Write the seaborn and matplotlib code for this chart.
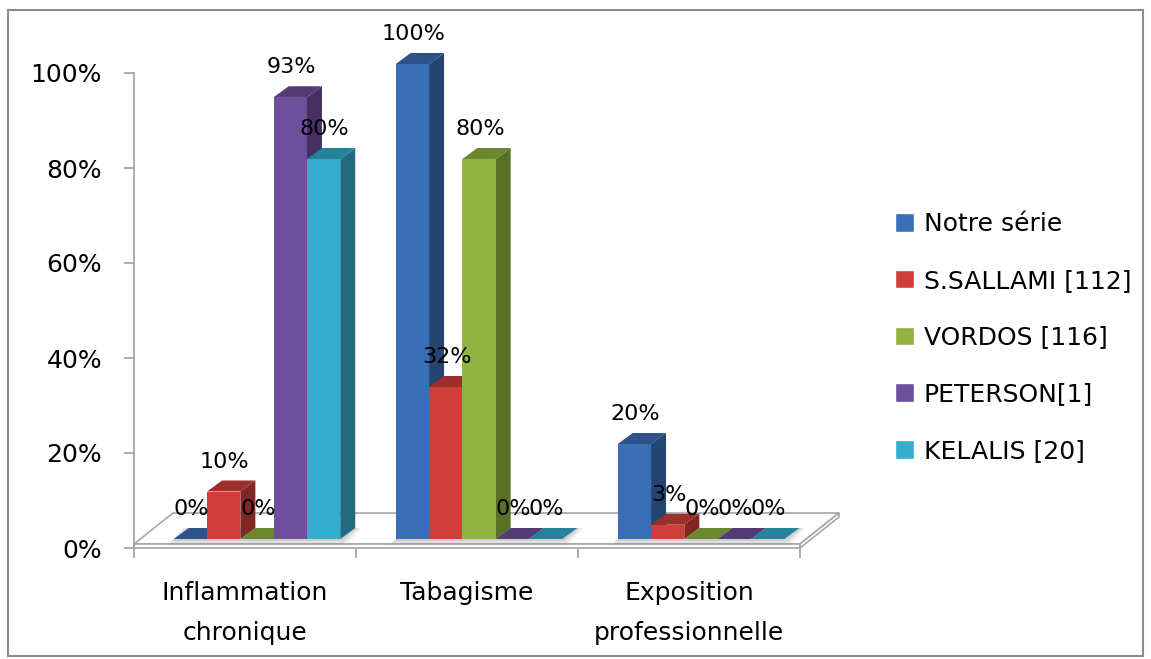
import numpy as np
import pandas as pd
import matplotlib
matplotlib.use("Agg")
import matplotlib.pyplot as plt
import seaborn as sns
from matplotlib.patches import Polygon, Rectangle
from matplotlib.transforms import offset_copy, IdentityTransform
from matplotlib.colors import to_rgb

# ---- data -------------------------------------------------------------
categories = ["Inflammation\nchronique", "Tabagisme", "Exposition\nprofessionnelle"]
series = ["Notre série", "S.SALLAMI [112]", "VORDOS [116]", "PETERSON[1]", "KELALIS [20]"]
notre_serie = [0, 100, 20]
sallami = [10, 32, 3]
vordos = [0, 80, 0]
peterson = [93, 0, 0]
kelalis = [80, 0, 0]
y_ticks = [0, 20, 40, 60, 80, 100]
colors = ["#3A6EB7", "#D03E39", "#90B43F", "#6F4E9C", "#33ADCD"]

values = [notre_serie, sallami, vordos, peterson, kelalis]
df = pd.DataFrame(
    [{"cat": c, "serie": s, "val": v[i]}
     for s, v in zip(series, values) for i, c in enumerate(categories)]
)

# ---- figure -----------------------------------------------------------
sns.set_theme(style="white")
plt.rcParams["font.family"] = ["DejaVu Sans"]
plt.rcParams["text.color"] = "black"
FS = 18
W, H, DPI = 1151, 659, 100
fig = plt.figure(figsize=(W / DPI, H / DPI), dpi=DPI)
ax = fig.add_axes([134 / W, (H - 548) / H, (800 - 134) / W, (548 - 73) / H])

sns.barplot(data=df, x="cat", y="val", hue="serie", order=categories,
            hue_order=series, palette=colors, saturation=1, width=0.75,
            errorbar=None, ax=ax, legend=True)
ax.set_xlim(-0.5, 2.5)
ax.set_ylim(0, 100)
ax.set_xlabel("")
ax.set_ylabel("")

bars = sorted([p for cont in ax.containers for p in cont],
              key=lambda p: p.get_x())


def shade(c, f):
    r, g, b = to_rgb(c)
    return (r * f, g * f, b * f)


# floor slab under the bars (drawn in pixel space)
fl = ax.transData.transform((-0.5, 0))
fr = ax.transData.transform((2.5, 0))
FDX, FDY, TH = 39, 31, 4
floor_top = [(fl[0], fl[1] + TH), (fr[0], fr[1] + TH),
             (fr[0] + FDX, fr[1] + TH + FDY), (fl[0] + FDX, fl[1] + TH + FDY)]
floor_front = [(fl[0], fl[1]), (fr[0], fr[1]), (fr[0], fr[1] + TH), (fl[0], fl[1] + TH)]
floor_side = [(fr[0], fr[1]), (fr[0] + FDX, fr[1] + FDY),
              (fr[0] + FDX, fr[1] + FDY + TH), (fr[0], fr[1] + TH)]
for verts in (floor_top, floor_front, floor_side):
    ax.add_patch(Polygon(verts, closed=True, transform=IdentityTransform(),
                         fc="white", ec="#A6A6A6", lw=1.2, zorder=1.2, clip_on=False))

# 3D bars: front face from seaborn, top and side faces derived from it
bar_tr = offset_copy(ax.transData, fig=fig, x=12, y=9, units="dots")
DX, DY = 15, 11

# soft shadow of each bar group on the floor
n_ser = len(series)
for g in range(len(categories)):
    grp = bars[g * n_ser:(g + 1) * n_ser]
    gx0 = grp[0].get_x()
    gx1 = grp[-1].get_x() + grp[-1].get_width()
    a = bar_tr.transform((gx0, 0))
    b = bar_tr.transform((gx1, 0))
    for k, alpha in ((6, 0.10), (4, 0.14), (2, 0.18)):
        sh = [(a[0] - k, a[1] - k), (b[0] + k, b[1] - k),
              (b[0] + DX + k, b[1] + DY), (a[0] + DX - k, a[1] + DY)]
        ax.add_patch(Polygon(sh, closed=True, transform=IdentityTransform(),
                             fc="#808080", alpha=alpha, lw=0, zorder=1.3,
                             clip_on=False))

for r, p in enumerate(bars):
    x0, w, h = p.get_x(), p.get_width(), p.get_height()
    c = p.get_facecolor()
    p.set_transform(bar_tr)
    p.set_clip_on(False)
    p.set_linewidth(0)
    p.set_zorder(2 + r * 0.01 + 0.005)
    xl, yb = bar_tr.transform((x0, 0))
    xr, yt = bar_tr.transform((x0 + w, h))
    top = [(xl, yt), (xr, yt), (xr + DX, yt + DY), (xl + DX, yt + DY)]
    side = [(xr, yb), (xr, yt), (xr + DX, yt + DY), (xr + DX, yb + DY)]
    ax.add_patch(Polygon(side, closed=True, transform=IdentityTransform(),
                         fc=shade(c, 0.62), lw=0, zorder=2 + r * 0.01, clip_on=False))
    ax.add_patch(Polygon(top, closed=True, transform=IdentityTransform(),
                         fc=shade(c, 0.75), lw=0, zorder=2 + r * 0.01 + 0.002, clip_on=False))
    ax.annotate(f"{int(round(h))}%", xy=(x0 + w / 2, h), xycoords="data",
                xytext=(13, 9 + 30), textcoords="offset pixels",
                ha="center", va="center", fontsize=16, color="black",
                zorder=5, annotation_clip=False)

# axes styling
for s in ("top", "right", "bottom"):
    ax.spines[s].set_visible(False)
ax.spines["left"].set_color("#A0A0A0")
ax.spines["left"].set_linewidth(1.2)
ax.set_yticks(y_ticks, labels=[f"{t}%" for t in y_ticks])
ax.tick_params(axis="y", left=True, length=7, width=1.2, color="#A0A0A0",
               pad=16, labelsize=FS, labelcolor="black", direction="out")
ax.set_xticks([-0.5, 0.5, 1.5, 2.5], labels=[""] * 4)
ax.set_xticks([0, 1, 2], labels=categories, minor=True)
ax.tick_params(axis="x", which="major", bottom=True, length=7, width=1.2,
               color="#A0A0A0", direction="out")
ax.tick_params(axis="x", which="minor", bottom=True, length=0, pad=24,
               labelsize=FS, labelcolor="black")
for t in ax.get_xticklabels(minor=True):
    t.set_linespacing(1.85)

sns.move_legend(ax, "upper left", bbox_to_anchor=(895 / W, (H - 212) / H),
                bbox_transform=fig.transFigure, frameon=False, title=None,
                fontsize=FS, handlelength=0.76, handleheight=0.76,
                handletextpad=0.4, labelspacing=1.31, borderpad=0,
                borderaxespad=0, labelcolor="black")

# outer chart frame
fig.patches.append(Rectangle((8 / W, 3 / H), (1143 - 8) / W, (656 - 10) / H,
                             transform=fig.transFigure, fill=False,
                             ec="#8C8C8C", lw=1.5))

fig.savefig("out.png", dpi=DPI)
